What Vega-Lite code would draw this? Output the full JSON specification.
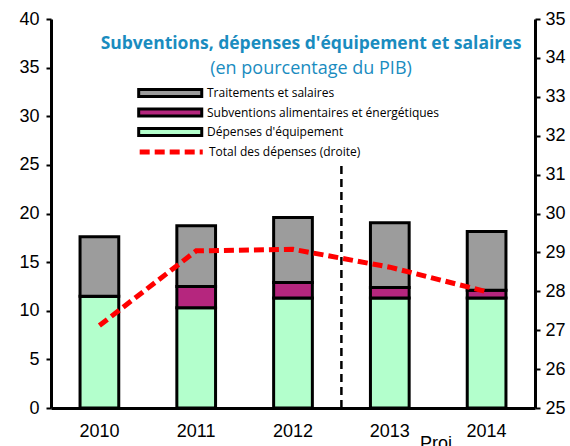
{
  "$schema": "https://vega.github.io/schema/vega-lite/v6.json",
  "width": 484,
  "height": 389,
  "autosize": "none",
  "padding": {"left": 51, "top": 19, "right": 35, "bottom": 38},
  "background": "white",
  "config": {"view": {"stroke": null}},
  "title": {
    "text": "Subventions, dépenses d'équipement et salaires",
    "subtitle": "(en pourcentage du PIB)",
    "font": "Open Sans",
    "fontSize": 17.5,
    "fontWeight": "bold",
    "color": "#1a8cbf",
    "subtitleFont": "Open Sans",
    "subtitleFontSize": 18,
    "subtitleColor": "#1a8cbf",
    "subtitlePadding": 8,
    "anchor": "middle",
    "frame": "group",
    "dx": 18,
    "offset": -68
  },
  "datasets": {
    "bars": [
      {"annee": "2010", "categorie": "Dépenses d'équipement", "valeur": 11.5},
      {"annee": "2010", "categorie": "Subventions alimentaires et énergétiques", "valeur": 0},
      {"annee": "2010", "categorie": "Traitements et salaires", "valeur": 6.1},
      {"annee": "2011", "categorie": "Dépenses d'équipement", "valeur": 10.3},
      {"annee": "2011", "categorie": "Subventions alimentaires et énergétiques", "valeur": 2.2},
      {"annee": "2011", "categorie": "Traitements et salaires", "valeur": 6.25},
      {"annee": "2012", "categorie": "Dépenses d'équipement", "valeur": 11.3},
      {"annee": "2012", "categorie": "Subventions alimentaires et énergétiques", "valeur": 1.6},
      {"annee": "2012", "categorie": "Traitements et salaires", "valeur": 6.7},
      {"annee": "2013", "categorie": "Dépenses d'équipement", "valeur": 11.3},
      {"annee": "2013", "categorie": "Subventions alimentaires et énergétiques", "valeur": 1.1},
      {"annee": "2013", "categorie": "Traitements et salaires", "valeur": 6.65},
      {"annee": "2014", "categorie": "Dépenses d'équipement", "valeur": 11.3},
      {"annee": "2014", "categorie": "Subventions alimentaires et énergétiques", "valeur": 0.8},
      {"annee": "2014", "categorie": "Traitements et salaires", "valeur": 6.05}
    ],
    "total": [
      {"annee": "2010", "total": 27.12},
      {"annee": "2011", "total": 29.04},
      {"annee": "2012", "total": 29.08},
      {"annee": "2013", "total": 28.62},
      {"annee": "2014", "total": 27.99}
    ]
  },
  "encoding": {
    "x": {
      "field": "annee",
      "type": "nominal",
      "scale": {"paddingInner": 0.6, "paddingOuter": 0.3},
      "axis": {
        "title": "Proj.",
        "titleFont": "Liberation Sans",
        "titleFontSize": 18,
        "titleFontWeight": "normal",
        "titleColor": "black",
        "titleX": 387,
        "titleY": 26,
        "titleBaseline": "top",
        "titleAlign": "center",
        "labelAngle": 0,
        "labelFont": "Liberation Sans",
        "labelFontSize": 18,
        "labelColor": "black",
        "labelPadding": 14,
        "ticks": false,
        "domainColor": "black",
        "domainWidth": 3
      }
    }
  },
  "layer": [
    {
      "layer": [
        {
          "data": {"name": "bars"},
          "mark": {"type": "bar", "stroke": "black", "strokeWidth": 3},
          "encoding": {
            "y": {
              "field": "valeur",
              "type": "quantitative",
              "stack": "zero",
              "scale": {"domain": [0, 40], "nice": false},
              "axis": {
                "title": null,
                "orient": "left",
                "values": [0, 5, 10, 15, 20, 25, 30, 35, 40],
                "grid": false,
                "labelFont": "Liberation Sans",
                "labelFontSize": 18,
                "labelColor": "black",
                "labelPadding": 7,
                "tickSize": 5,
                "tickWidth": 2,
                "tickColor": "black",
                "domainColor": "black",
                "domainWidth": 3
              }
            },
            "color": {
              "field": "categorie",
              "type": "nominal",
              "scale": {
                "domain": ["Traitements et salaires", "Subventions alimentaires et énergétiques", "Dépenses d'équipement"],
                "range": ["#9c9c9c", "#b5267e", "#b3ffcc"]
              },
              "legend": {
                "title": null,
                "orient": "none",
                "legendX": 86,
                "legendY": 66,
                "padding": 0,
                "rowPadding": -0.5,
                "symbolType": "M-1,-0.55H9V0.55H-1Z",
                "symbolSize": 159,
                "symbolStrokeColor": "black",
                "symbolStrokeWidth": 3,
                "symbolOpacity": 1,
                "labelFont": "Open Sans",
                "labelFontSize": 12,
                "labelColor": "black",
                "labelOffset": 54,
                "labelLimit": 0
              }
            },
            "order": {"field": "categorie", "sort": "ascending"}
          }
        },
        {
          "data": {"values": [{}]},
          "mark": {"type": "rule", "stroke": "black", "strokeWidth": 2.5, "strokeDash": [8, 5]},
          "encoding": {
            "x": {"datum": "2013", "bandPosition": -0.75},
            "y": {"datum": 0},
            "y2": {"datum": 25.3}
          }
        }
      ]
    },
    {
      "data": {"name": "total"},
      "mark": {"type": "line", "strokeWidth": 5, "strokeDash": [10, 5]},
      "encoding": {
        "y": {
          "field": "total",
          "type": "quantitative",
          "scale": {"domain": [25, 35], "nice": false, "zero": false},
          "axis": {
            "title": null,
            "orient": "right",
            "values": [25, 26, 27, 28, 29, 30, 31, 32, 33, 34, 35],
            "grid": false,
            "labelFont": "Liberation Sans",
            "labelFontSize": 18,
            "labelColor": "black",
            "labelPadding": 5,
            "tickSize": 5,
            "tickWidth": 2,
            "tickColor": "black",
            "domainColor": "black",
            "domainWidth": 3
          }
        },
        "stroke": {
          "datum": "Total des dépenses (droite)",
          "type": "nominal",
          "scale": {"range": ["#ff0000"]},
          "legend": {
            "title": null,
            "orient": "none",
            "legendX": 86,
            "legendY": 124,
            "padding": 0,
            "symbolType": "M-1,0H9",
            "symbolSize": 159,
            "symbolStrokeWidth": 5,
            "symbolDash": [10, 5],
            "symbolFillColor": "transparent",
            "labelFont": "Open Sans",
            "labelFontSize": 12,
            "labelColor": "black",
            "labelOffset": 54,
            "labelLimit": 0
          }
        }
      }
    }
  ],
  "resolve": {"scale": {"y": "independent", "color": "independent"}}
}
